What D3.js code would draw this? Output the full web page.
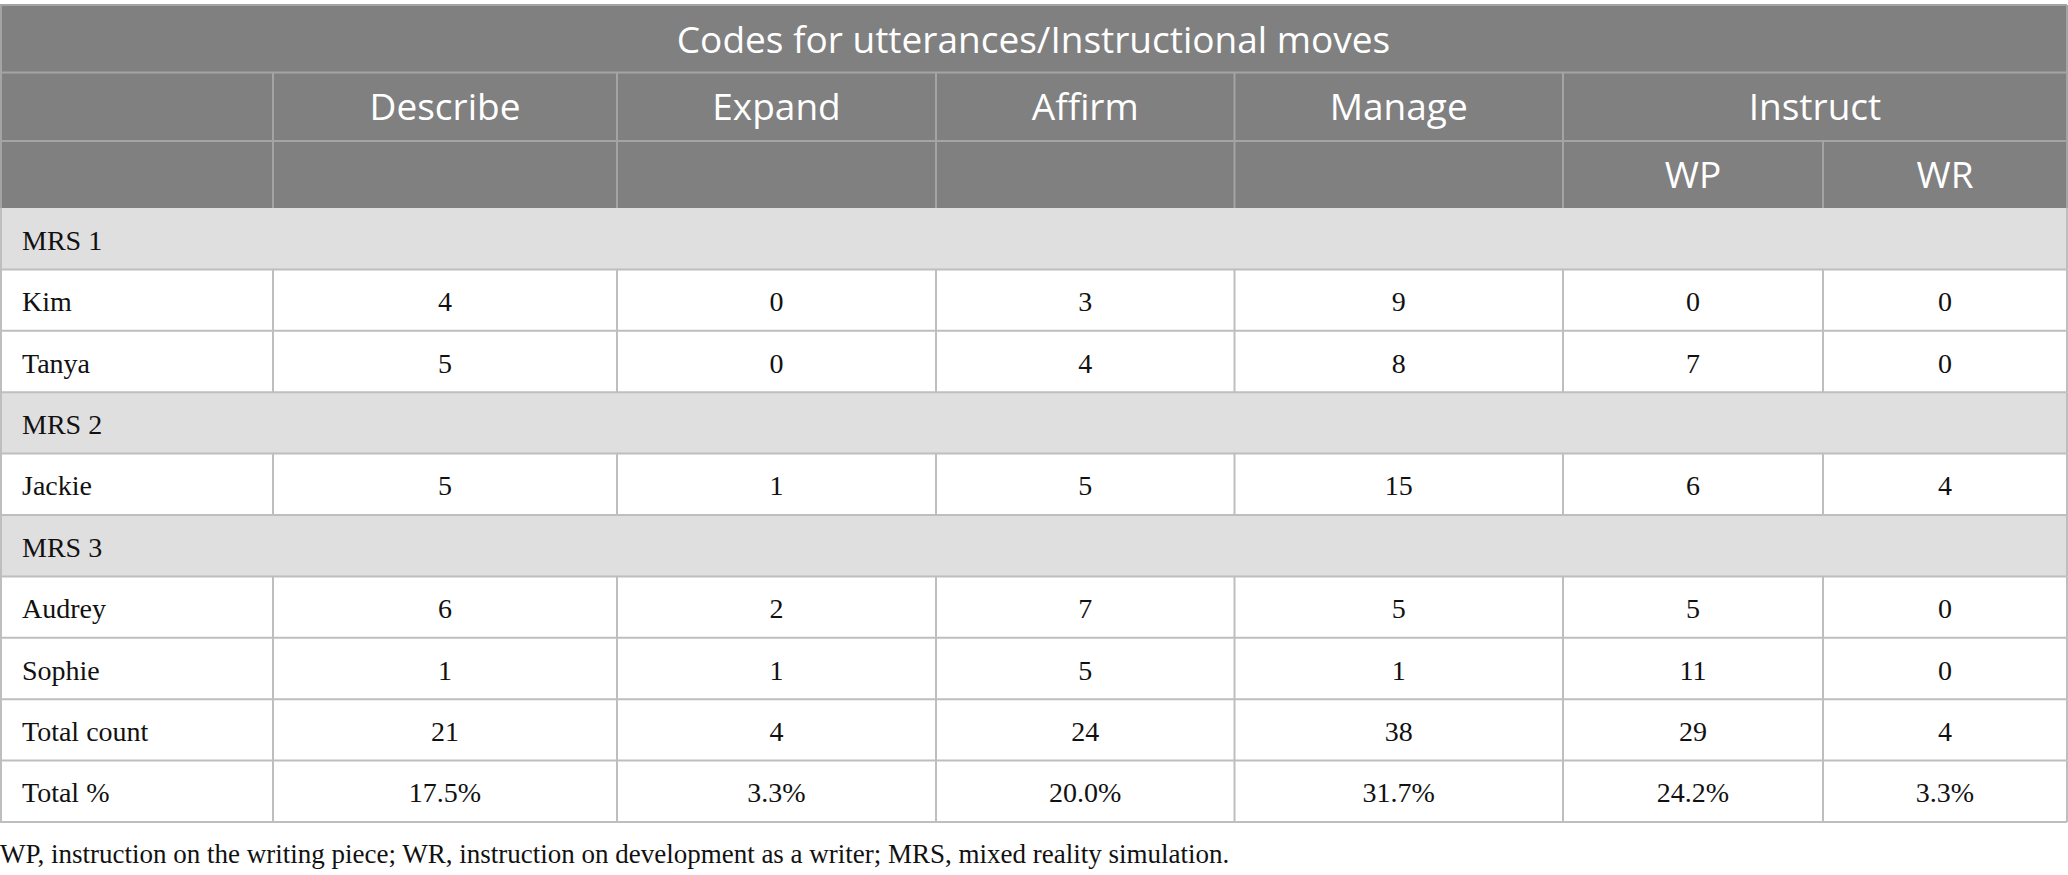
<!DOCTYPE html>
<html>
<head>
<meta charset="utf-8">
<script src="https://cdn.jsdelivr.net/npm/d3@7"></script>
<style>
html,body{margin:0;padding:0;background:#fff;}
svg{display:block;}
</style>
</head>
<body>
<script>
// ---- data ----
const title = "Codes for utterances/Instructional moves";
const groupLabels = ["Describe", "Expand", "Affirm", "Manage", "Instruct"];
const groupSpans = [1, 1, 1, 1, 2];
const subLabels = ["", "", "", "", "WP", "WR"];
const columns = ["Describe", "Expand", "Affirm", "Manage", "WP", "WR"];
const sections = ["MRS 1", "MRS 2", "MRS 3"];
const participants = ["Kim", "Tanya", "Jackie", "Audrey", "Sophie"];
const participantSection = ["MRS 1", "MRS 1", "MRS 2", "MRS 3", "MRS 3"];
const describe = [4, 5, 5, 6, 1];
const expand = [0, 0, 1, 2, 1];
const affirm = [3, 4, 5, 7, 5];
const manage = [9, 8, 15, 5, 1];
const instructWP = [0, 7, 6, 5, 11];
const instructWR = [0, 0, 4, 0, 0];
const totalCount = [21, 4, 24, 38, 29, 4];
const totalPct = ["17.5%", "3.3%", "20.0%", "31.7%", "24.2%", "3.3%"];
const footnote = "WP, instruction on the writing piece; WR, instruction on development as a writer; MRS, mixed reality simulation.";

// ---- layout ----
const W = 2068, H = 875;
const colEdges = [0, 273, 617, 936, 1234.5, 1563, 1823, 2067];
const headerEdges = [5, 72.5, 141, 208];
const bodyTop = 208, bodyBottom = 822;

const svg = d3.select("body").append("svg").attr("width", W).attr("height", H);

const seriesByCol = [describe, expand, affirm, manage, instructWP, instructWR];

// build row list
const rows = [];
sections.forEach(s => {
  rows.push({type: "section", label: s});
  participants.forEach((p, i) => {
    if (participantSection[i] === s) rows.push({type: "data", label: p, values: seriesByCol.map(c => c[i])});
  });
});
rows.push({type: "data", label: "Total count", values: totalCount});
rows.push({type: "data", label: "Total %", values: totalPct});

const y = d3.scaleBand().domain(d3.range(rows.length)).range([bodyTop, bodyBottom]).padding(0);
const xCol = d3.scaleOrdinal().domain(["label"].concat(columns)).range(colEdges.slice(0, 7));
const colW = i => colEdges[i + 1] - colEdges[i];

const headerBg = "#7f807f", headerLine = "#a3a4a3", sectionBg = "#e0dfe0", gridLine = "#bebebe";
const sansFont = "'Open Sans', sans-serif", serifFont = "'Liberation Serif', serif";

// header background
svg.append("rect").attr("x", 0).attr("y", headerEdges[0]).attr("width", colEdges[7]).attr("height", headerEdges[3] - headerEdges[0]).attr("fill", headerBg);

// body rows backgrounds
const rowG = svg.append("g");
rowG.selectAll("rect").data(rows).join("rect")
  .attr("x", 0).attr("y", (d, i) => y(i)).attr("width", colEdges[7]).attr("height", y.bandwidth())
  .attr("fill", d => d.type === "section" ? sectionBg : "#fff");

// header lines
const hl = svg.append("g").attr("stroke", headerLine).attr("stroke-width", 2);
hl.append("line").attr("x1", 0).attr("x2", colEdges[7]).attr("y1", headerEdges[0]).attr("y2", headerEdges[0]);
[1, 2].forEach(k => hl.append("line").attr("x1", 0).attr("x2", colEdges[7]).attr("y1", headerEdges[k]).attr("y2", headerEdges[k]));
let gEdges = [colEdges[1]];
let ci = 1;
groupSpans.forEach(s => { ci += s; gEdges.push(colEdges[ci]); });
gEdges.slice(0, -1).forEach(xv => hl.append("line").attr("x1", xv).attr("x2", xv).attr("y1", headerEdges[1]).attr("y2", headerEdges[2]));
colEdges.slice(1, 7).forEach(xv => hl.append("line").attr("x1", xv).attr("x2", xv).attr("y1", headerEdges[2]).attr("y2", headerEdges[3]));
hl.append("line").attr("x1", 1).attr("x2", 1).attr("y1", headerEdges[0]).attr("y2", headerEdges[3]);
hl.append("line").attr("x1", colEdges[7]).attr("x2", colEdges[7]).attr("y1", headerEdges[0]).attr("y2", headerEdges[3]);

// header texts
const ht = svg.append("g").attr("fill", "#fff").attr("font-family", sansFont).attr("font-size", 37).attr("text-anchor", "middle");
ht.append("text").attr("x", (colEdges[0] + colEdges[7]) / 2).attr("y", (headerEdges[0] + headerEdges[1]) / 2 + 14).text(title);
groupLabels.forEach((g, i) => {
  ht.append("text").attr("x", (gEdges[i] + gEdges[i + 1]) / 2).attr("y", (headerEdges[1] + headerEdges[2]) / 2 + 13.5).text(g);
});
subLabels.forEach((s, i) => {
  if (s) ht.append("text").attr("x", (colEdges[i + 1] + colEdges[i + 2]) / 2).attr("y", (headerEdges[2] + headerEdges[3]) / 2 + 13.5).text(s);
});

// body grid lines
const bl = svg.append("g").attr("stroke", gridLine).attr("stroke-width", 2);
rows.forEach((r, i) => {
  bl.append("line").attr("x1", 0).attr("x2", colEdges[7]).attr("y1", y(i) + y.bandwidth()).attr("y2", y(i) + y.bandwidth());
  bl.append("line").attr("x1", 1).attr("x2", 1).attr("y1", y(i)).attr("y2", y(i) + y.bandwidth());
  bl.append("line").attr("x1", colEdges[7]).attr("x2", colEdges[7]).attr("y1", y(i)).attr("y2", y(i) + y.bandwidth());
  if (r.type === "data") {
    colEdges.slice(1, 7).forEach(xv => bl.append("line").attr("x1", xv).attr("x2", xv).attr("y1", y(i)).attr("y2", y(i) + y.bandwidth()));
  }
});

// body texts
const bt = svg.append("g").attr("fill", "#111").attr("font-family", serifFont).attr("font-size", 28);
rows.forEach((r, i) => {
  const cy = y(i) + y.bandwidth() / 2 + 11;
  bt.append("text").attr("x", 22).attr("y", cy).text(r.label);
  if (r.type === "data") {
    r.values.forEach((v, j) => {
      bt.append("text").attr("x", xCol(columns[j]) + colW(j + 1) / 2).attr("y", cy).attr("text-anchor", "middle").text(v);
    });
  }
});

// footnote
svg.append("text").attr("x", 0).attr("y", 863).attr("font-family", serifFont).attr("font-size", 27).attr("fill", "#111").text(footnote);
</script>
</body>
</html>
